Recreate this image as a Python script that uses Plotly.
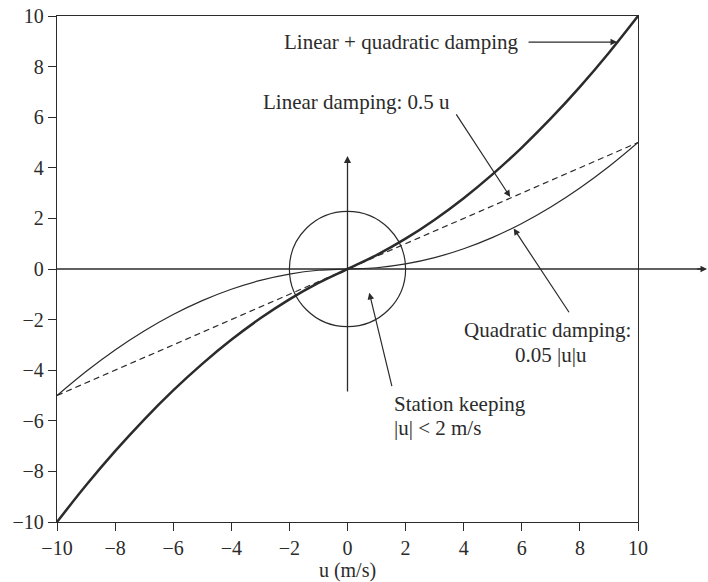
import plotly.graph_objects as go

u = [-10, -9, -8, -7, -6, -5, -4, -3, -2, -1, 0, 1, 2, 3, 4, 5, 6, 7, 8, 9, 10]
linear = [-5, -4.5, -4, -3.5, -3, -2.5, -2, -1.5, -1, -0.5, 0, 0.5, 1, 1.5, 2, 2.5, 3, 3.5, 4, 4.5, 5]
quadratic = [-5, -4.05, -3.2, -2.45, -1.8, -1.25, -0.8, -0.45, -0.2, -0.05, 0,
             0.05, 0.2, 0.45, 0.8, 1.25, 1.8, 2.45, 3.2, 4.05, 5]
combined = [-10, -8.55, -7.2, -5.95, -4.8, -3.75, -2.8, -1.95, -1.2, -0.55, 0,
            0.55, 1.2, 1.95, 2.8, 3.75, 4.8, 5.95, 7.2, 8.55, 10]
ticks = [-10, -8, -6, -4, -2, 0, 2, 4, 6, 8, 10]
tick_text = ["\u221210", "\u22128", "\u22126", "\u22124", "\u22122", "0", "2", "4", "6", "8", "10"]

FONT = "Liberation Serif"
INK = "#2b2b2b"
fig = go.Figure()
fig.add_trace(go.Scatter(x=u, y=linear, mode="lines", line=dict(color=INK, width=1.2, dash="6px,4px")))
fig.add_trace(go.Scatter(x=u, y=quadratic, mode="lines", line=dict(color=INK, width=1.2, shape="spline")))
fig.add_trace(go.Scatter(x=u, y=combined, mode="lines", line=dict(color=INK, width=2.5, shape="spline")))

# station keeping circle
fig.add_shape(type="circle", xref="x", yref="y", x0=-2, x1=2, y0=-2.28, y1=2.28,
              line=dict(color=INK, width=1.2))
# horizontal axis line with arrow beyond plot
fig.add_shape(type="line", xref="paper", yref="y", x0=0, x1=1.115, y0=0, y1=0,
              line=dict(color=INK, width=1.3))
fig.add_annotation(xref="paper", yref="y", x=1.12, y=0, ax=-12, ay=0, text="",
                   showarrow=True, arrowhead=2, arrowsize=1, arrowwidth=1.3, arrowcolor=INK)
# vertical axis arrow
fig.add_annotation(x=0, y=4.47, ax=0, ay=-4.9, axref="x", ayref="y", text="",
                   showarrow=True, arrowhead=2, arrowsize=1.1, arrowwidth=1.3, arrowcolor=INK)

arrows = [
    ((9.28, 8.97), (6.18, 8.97)),
    ((5.6, 2.85), (3.71, 6.17)),
    ((5.72, 1.6), (7.66, -1.77)),
    ((0.75, -0.94), (1.54, -4.69)),
]
for (tx, ty), (sx, sy) in arrows:
    fig.add_annotation(x=tx, y=ty, ax=sx, ay=sy, axref="x", ayref="y", text="",
                       showarrow=True, arrowhead=2, arrowsize=1.1, arrowwidth=1.2, arrowcolor=INK)

labels = [
    ("Linear + quadratic damping", 5.98, 8.97, "right"),
    ("Linear damping: 0.5 u", 3.6, 6.6, "right"),
    ("Quadratic damping:", 6.9, -2.40, "center"),
    ("0.05 |u|u", 7.0, -3.39, "center"),
    ("Station keeping", 1.54, -5.32, "left"),
    ("|u| < 2 m/s", 1.54, -6.27, "left"),
]
for txt, x, y, xa in labels:
    fig.add_annotation(x=x, y=y, text=txt, showarrow=False, xanchor=xa, yanchor="middle",
                       font=dict(family=FONT, size=21, color=INK))

axis_common = dict(range=[-10, 10], tickvals=ticks, ticktext=tick_text, showgrid=False,
                   zeroline=False, showline=True, mirror=True, linecolor=INK, linewidth=1.3,
                   ticks="outside", ticklen=8, tickwidth=1.3, tickcolor=INK, automargin=False,
                   tickfont=dict(family=FONT, size=20, color=INK))
fig.update_xaxes(**axis_common, title=dict(text="u (m/s)", font=dict(family=FONT, size=20, color=INK), standoff=10))
fig.update_yaxes(**axis_common)
fig.update_layout(width=708, height=582, margin=dict(l=57, r=70, t=16, b=60, autoexpand=False),
                  plot_bgcolor="white", paper_bgcolor="white", showlegend=False)
fig.write_html("out.html")
